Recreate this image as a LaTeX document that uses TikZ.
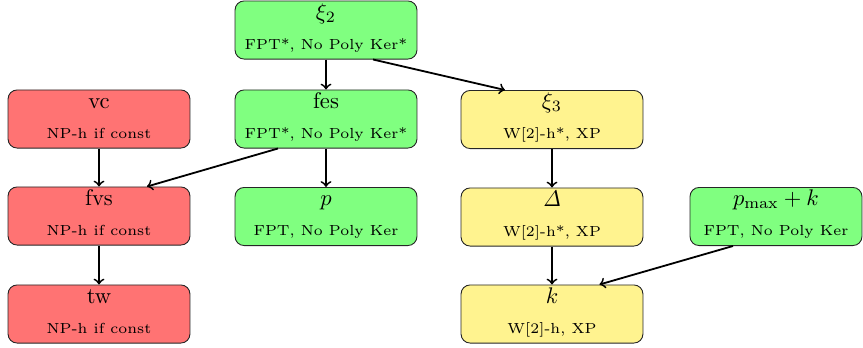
\documentclass[tikz,border=0pt]{standalone}
\usetikzlibrary{calc}

\definecolor{hardred}{RGB}{255,115,115}
\definecolor{fptgreen}{RGB}{128,255,128}
\definecolor{xpyellow}{RGB}{255,243,143}

\tikzset{
  stagebox/.style={draw=black!85, line width=0.4pt, rounded corners=4pt,
    minimum width=80.5pt, minimum height=25.7pt, inner sep=0pt},
  mainlbl/.style={anchor=base, inner sep=0pt, font=\normalsize},
  sublbl/.style={anchor=base, inner sep=0pt, font=\fontsize{6.45}{7.5}\selectfont},
  reduce/.style={->, line width=0.8pt},
}

% #1 name, #2 x, #3 y, #4 fill, #5 parameter, #6 complexity, #7 extra box options
\newcommand\stagenode[7]{%
  \node[stagebox, fill=#4, #7] (#1) at (#2,#3) {};
  \node[mainlbl] (#1-m) at ($(#1.center)+(0,-11)$) {#5};
  \node[sublbl] (#1-s) at ($(#1.center)+(0,19)$) {#6};
}

\begin{document}
\begin{tikzpicture}[x=0.4425pt, y=-0.4425pt]
  \useasboundingbox (0,0) rectangle (863,347);

  % column 1: hardness chain
  \stagenode{vc}{99}{119}{hardred}{vc}{NP-h if const}{}
  \stagenode{fvs}{99}{216}{hardred}{fvs}{NP-h if const}{}
  \stagenode{tw}{99}{314}{hardred}{tw}{NP-h if const}{}

  % column 2: FPT parameters
  \stagenode{xi2}{326}{30}{fptgreen}{$\xi_2$}{FPT*, No Poly Ker*}{}
  \stagenode{fes}{326}{119}{fptgreen}{fes}{FPT*, No Poly Ker*}{}
  \stagenode{p}{326}{216.5}{fptgreen}{$p$}{FPT, No Poly Ker}{}

  % column 3: W[2]-hard parameters
  \stagenode{xi3}{552}{119.5}{xpyellow}{$\xi_3$}{W[2]-h*, XP}{}
  \stagenode{delta}{552}{217}{xpyellow}{$\mathit{\Delta}$}{W[2]-h*, XP}{}
  \stagenode{k}{552}{314}{xpyellow}{$k$}{W[2]-h, XP}{}

  % column 4
  \stagenode{pk}{776}{216.5}{fptgreen}{$p_{\max}+k$}{FPT, No Poly Ker}{minimum width=76.1pt}

  % relations
  \draw[reduce] (xi2) -- (fes);
  \draw[reduce] ($(xi2.south)+(47,0)$) -- ($(xi3.north)+(-47,0)$);
  \draw[reduce] (vc) -- (fvs);
  \draw[reduce] ($(fes.south)+(-48,0)$) -- ($(fvs.north)+(48,0)$);
  \draw[reduce] (fes) -- (p);
  \draw[reduce] (fvs) -- (tw);
  \draw[reduce] (xi3) -- (delta);
  \draw[reduce] (delta) -- (k);
  \draw[reduce] ($(pk.south)+(-43,0)$) -- ($(k.north)+(47.5,0)$);
\end{tikzpicture}
\end{document}
